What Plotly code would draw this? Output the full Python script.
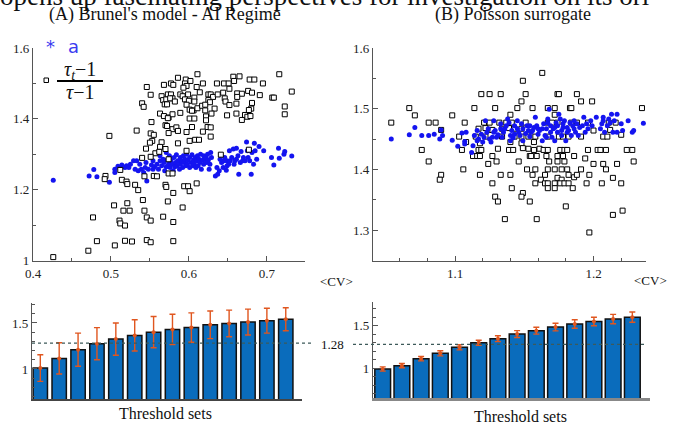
import plotly.graph_objects as go

# ---------------- data ----------------
# Panel A (Brunel's model) scatter: blue dots "a" and open squares (tau_t-1)/(tau-1)
brunel_a = [
    (0.426, 1.227), (0.492, 1.232),
    (0.472, 1.239), (0.478, 1.257), (0.482, 1.237), (0.498, 1.221), (0.505, 1.258), (0.505, 1.249),
    (0.509, 1.266), (0.512, 1.261), (0.514, 1.270), (0.518, 1.263), (0.520, 1.268), (0.523, 1.263),
    (0.525, 1.272), (0.529, 1.282), (0.531, 1.258), (0.533, 1.282), (0.535, 1.254), (0.537, 1.272),
    (0.539, 1.258), (0.542, 1.249), (0.544, 1.263), (0.545, 1.277), (0.546, 1.225), (0.548, 1.258),
    (0.551, 1.294), (0.552, 1.270), (0.554, 1.282), (0.554, 1.258), (0.556, 1.265), (0.559, 1.272),
    (0.561, 1.258), (0.563, 1.282), (0.563, 1.296), (0.565, 1.268), (0.567, 1.286), (0.568, 1.277),
    (0.569, 1.254), (0.571, 1.265), (0.571, 1.305), (0.572, 1.284), (0.574, 1.272), (0.575, 1.296),
    (0.576, 1.263), (0.577, 1.280), (0.578, 1.289), (0.579, 1.272), (0.580, 1.254), (0.581, 1.291),
    (0.582, 1.265), (0.583, 1.277), (0.584, 1.299), (0.585, 1.268), (0.586, 1.282), (0.588, 1.258),
    (0.589, 1.291), (0.589, 1.272), (0.591, 1.282), (0.592, 1.263), (0.593, 1.296), (0.594, 1.277),
    (0.595, 1.286), (0.596, 1.268), (0.597, 1.300), (0.598, 1.272), (0.599, 1.284), (0.601, 1.263),
    (0.601, 1.291), (0.603, 1.277), (0.604, 1.299), (0.605, 1.268), (0.606, 1.284), (0.607, 1.272),
    (0.608, 1.291), (0.609, 1.263), (0.610, 1.282), (0.611, 1.296), (0.612, 1.268), (0.613, 1.286),
    (0.614, 1.277), (0.615, 1.300), (0.616, 1.258), (0.618, 1.284), (0.619, 1.296), (0.619, 1.272),
    (0.621, 1.286), (0.622, 1.291), (0.623, 1.277), (0.624, 1.300), (0.625, 1.284), (0.626, 1.258),
    (0.627, 1.272), (0.628, 1.305), (0.629, 1.291), (0.634, 1.239), (0.636, 1.263), (0.637, 1.244),
    (0.639, 1.254), (0.640, 1.286), (0.642, 1.277), (0.644, 1.263), (0.645, 1.282), (0.646, 1.291),
    (0.648, 1.255), (0.649, 1.268), (0.649, 1.282), (0.651, 1.272), (0.652, 1.310), (0.653, 1.282),
    (0.655, 1.291), (0.657, 1.315), (0.658, 1.272), (0.659, 1.282), (0.661, 1.317), (0.661, 1.286),
    (0.663, 1.296), (0.664, 1.244), (0.666, 1.277), (0.667, 1.308), (0.669, 1.282), (0.670, 1.291),
    (0.672, 1.282), (0.674, 1.335), (0.675, 1.310), (0.676, 1.291), (0.678, 1.282), (0.680, 1.244),
    (0.681, 1.305), (0.683, 1.272), (0.684, 1.331), (0.685, 1.310), (0.687, 1.286), (0.690, 1.322),
    (0.696, 1.310), (0.706, 1.291), (0.709, 1.270), (0.715, 1.317), (0.716, 1.289), (0.722, 1.300),
    (0.723, 1.308), (0.732, 1.295),
]
brunel_ratio = [
    (0.611, 1.526), (0.586, 1.516), (0.596, 1.511), (0.602, 1.507), (0.657, 1.519), (0.665, 1.520),
    (0.678, 1.511), (0.684, 1.511), (0.695, 1.500), (0.716, 1.526), (0.568, 1.496), (0.577, 1.500),
    (0.580, 1.496), (0.595, 1.500), (0.597, 1.493), (0.618, 1.500), (0.636, 1.500), (0.645, 1.500),
    (0.651, 1.500), (0.658, 1.507), (0.546, 1.490), (0.593, 1.488), (0.610, 1.490), (0.652, 1.485),
    (0.676, 1.479), (0.681, 1.474), (0.732, 1.477), (0.551, 1.468), (0.565, 1.464), (0.573, 1.469),
    (0.577, 1.469), (0.579, 1.458), (0.589, 1.469), (0.592, 1.464), (0.599, 1.469), (0.607, 1.460),
    (0.614, 1.475), (0.625, 1.469), (0.628, 1.469), (0.631, 1.462), (0.637, 1.469), (0.644, 1.474),
    (0.662, 1.472), (0.668, 1.471), (0.691, 1.467), (0.707, 1.460), (0.709, 1.460), (0.567, 1.453),
    (0.571, 1.455), (0.576, 1.458), (0.582, 1.449), (0.595, 1.455), (0.600, 1.451), (0.607, 1.449),
    (0.625, 1.453), (0.627, 1.447), (0.646, 1.458), (0.647, 1.449), (0.662, 1.462), (0.681, 1.445),
    (0.540, 1.444), (0.542, 1.434), (0.569, 1.441), (0.572, 1.441), (0.597, 1.440), (0.601, 1.426),
    (0.606, 1.424), (0.611, 1.430), (0.617, 1.437), (0.621, 1.440), (0.633, 1.429), (0.652, 1.439),
    (0.661, 1.443), (0.680, 1.429), (0.677, 1.425), (0.723, 1.435), (0.563, 1.415), (0.568, 1.408),
    (0.574, 1.404), (0.579, 1.413), (0.589, 1.417), (0.604, 1.423), (0.621, 1.424), (0.629, 1.415),
    (0.649, 1.410), (0.661, 1.415), (0.672, 1.411), (0.675, 1.406), (0.679, 1.408), (0.723, 1.413),
    (0.552, 1.391), (0.573, 1.402), (0.601, 1.401), (0.607, 1.401), (0.622, 1.407), (0.622, 1.396),
    (0.668, 1.397), (0.570, 1.382), (0.572, 1.380), (0.579, 1.371), (0.584, 1.376), (0.586, 1.366),
    (0.604, 1.377), (0.624, 1.377), (0.628, 1.376), (0.533, 1.367), (0.551, 1.359), (0.555, 1.355),
    (0.574, 1.360), (0.597, 1.363), (0.618, 1.364), (0.628, 1.350), (0.498, 1.352), (0.553, 1.338),
    (0.565, 1.334), (0.550, 1.333), (0.586, 1.331), (0.601, 1.338), (0.608, 1.341), (0.613, 1.341),
    (0.563, 1.321), (0.545, 1.316), (0.557, 1.303), (0.562, 1.307), (0.570, 1.315), (0.597, 1.310),
    (0.677, 1.313), (0.540, 1.290), (0.551, 1.293), (0.574, 1.286), (0.641, 1.299), (0.512, 1.256),
    (0.493, 1.239), (0.492, 1.230), (0.514, 1.228), (0.520, 1.223), (0.521, 1.216), (0.531, 1.214),
    (0.535, 1.199), (0.543, 1.238), (0.555, 1.239), (0.559, 1.238), (0.570, 1.214), (0.571, 1.208),
    (0.574, 1.246), (0.579, 1.246), (0.594, 1.210), (0.599, 1.210), (0.601, 1.196), (0.610, 1.218),
    (0.580, 1.191), (0.541, 1.171), (0.573, 1.167), (0.504, 1.156), (0.521, 1.162), (0.516, 1.141),
    (0.524, 1.141), (0.543, 1.141), (0.592, 1.150), (0.477, 1.122), (0.546, 1.122), (0.551, 1.113),
    (0.567, 1.124), (0.511, 1.113), (0.512, 1.105), (0.518, 1.099), (0.580, 1.109), (0.482, 1.055),
    (0.505, 1.043), (0.518, 1.056), (0.527, 1.054), (0.546, 1.058), (0.551, 1.052), (0.580, 1.055),
    (0.471, 1.028), (0.426, 1.010),
]

# Panel B (Poisson surrogate) scatter
poisson_a = [
    (1.054, 1.450), (1.067, 1.457), (1.071, 1.469), (1.076, 1.456), (1.081, 1.456), (1.085, 1.458),
    (1.089, 1.450), (1.090, 1.465), (1.091, 1.456), (1.098, 1.448), (1.102, 1.438), (1.105, 1.460),
    (1.107, 1.446), (1.108, 1.461), (1.107, 1.442), (1.112, 1.428), (1.113, 1.439), (1.114, 1.456),
    (1.116, 1.464), (1.116, 1.447), (1.117, 1.450), (1.119, 1.458), (1.120, 1.445), (1.121, 1.453),
    (1.122, 1.480), (1.123, 1.461), (1.124, 1.467), (1.125, 1.450), (1.126, 1.445), (1.127, 1.453),
    (1.128, 1.461), (1.128, 1.480), (1.129, 1.464), (1.130, 1.453), (1.131, 1.457), (1.133, 1.475),
    (1.133, 1.467), (1.134, 1.453), (1.135, 1.461), (1.136, 1.467), (1.137, 1.472), (1.138, 1.483),
    (1.139, 1.477), (1.140, 1.456), (1.140, 1.447), (1.141, 1.464), (1.142, 1.452), (1.143, 1.458),
    (1.143, 1.472), (1.145, 1.467), (1.145, 1.480), (1.146, 1.461), (1.147, 1.456), (1.148, 1.475),
    (1.149, 1.467), (1.149, 1.447), (1.151, 1.459), (1.152, 1.472), (1.153, 1.464), (1.154, 1.472),
    (1.154, 1.454), (1.155, 1.461), (1.156, 1.464), (1.157, 1.469), (1.158, 1.486), (1.159, 1.472),
    (1.160, 1.458), (1.160, 1.467), (1.161, 1.464), (1.163, 1.447), (1.163, 1.467), (1.164, 1.475),
    (1.165, 1.456), (1.166, 1.453), (1.166, 1.467), (1.167, 1.477), (1.167, 1.483), (1.168, 1.499),
    (1.169, 1.472), (1.169, 1.461), (1.170, 1.453), (1.171, 1.467), (1.172, 1.447), (1.172, 1.469),
    (1.173, 1.477), (1.174, 1.461), (1.174, 1.472), (1.175, 1.491), (1.176, 1.483), (1.177, 1.464),
    (1.177, 1.456), (1.178, 1.475), (1.178, 1.469), (1.179, 1.480), (1.180, 1.447), (1.181, 1.461),
    (1.181, 1.469), (1.182, 1.464), (1.183, 1.477), (1.184, 1.456), (1.185, 1.472), (1.186, 1.480),
    (1.186, 1.467), (1.187, 1.461), (1.188, 1.475), (1.189, 1.456), (1.190, 1.469), (1.192, 1.472),
    (1.193, 1.486), (1.194, 1.461), (1.195, 1.475), (1.196, 1.467), (1.198, 1.480), (1.199, 1.472),
    (1.202, 1.486), (1.205, 1.467), (1.206, 1.475), (1.207, 1.480), (1.207, 1.486), (1.208, 1.461),
    (1.210, 1.472), (1.211, 1.483), (1.212, 1.477), (1.213, 1.491), (1.214, 1.461), (1.215, 1.480),
    (1.217, 1.461), (1.217, 1.491), (1.220, 1.475), (1.221, 1.464), (1.225, 1.480), (1.228, 1.461),
    (1.229, 1.464), (1.236, 1.476),
]
poisson_ratio = [
    (1.163, 1.559), (1.149, 1.546), (1.119, 1.524), (1.125, 1.524), (1.133, 1.524), (1.151, 1.524),
    (1.174, 1.524), (1.175, 1.524), (1.188, 1.524), (1.148, 1.512), (1.191, 1.512), (1.199, 1.512),
    (1.067, 1.501), (1.114, 1.501), (1.129, 1.501), (1.145, 1.501), (1.156, 1.501), (1.167, 1.501),
    (1.172, 1.501), (1.183, 1.501), (1.184, 1.501), (1.235, 1.501), (1.071, 1.489), (1.098, 1.489),
    (1.140, 1.490), (1.172, 1.490), (1.054, 1.477), (1.081, 1.477), (1.086, 1.477), (1.107, 1.477),
    (1.121, 1.477), (1.125, 1.477), (1.132, 1.477), (1.137, 1.477), (1.141, 1.477), (1.151, 1.477),
    (1.167, 1.477), (1.170, 1.477), (1.174, 1.477), (1.184, 1.477), (1.188, 1.477), (1.196, 1.477),
    (1.211, 1.477), (1.216, 1.477), (1.090, 1.465), (1.117, 1.467), (1.122, 1.468), (1.125, 1.465),
    (1.127, 1.465), (1.134, 1.467), (1.139, 1.468), (1.143, 1.467), (1.148, 1.467), (1.103, 1.454),
    (1.115, 1.454), (1.122, 1.454), (1.134, 1.454), (1.143, 1.454), (1.148, 1.454), (1.153, 1.454),
    (1.158, 1.454), (1.167, 1.454), (1.175, 1.454), (1.178, 1.454), (1.182, 1.454), (1.191, 1.454),
    (1.200, 1.464), (1.207, 1.454), (1.210, 1.454), (1.220, 1.457), (1.212, 1.465), (1.108, 1.445),
    (1.118, 1.443), (1.140, 1.445), (1.148, 1.443), (1.157, 1.445), (1.076, 1.432), (1.105, 1.432),
    (1.117, 1.432), (1.119, 1.432), (1.131, 1.434), (1.139, 1.432), (1.142, 1.432), (1.149, 1.435),
    (1.153, 1.434), (1.157, 1.432), (1.161, 1.434), (1.164, 1.432), (1.167, 1.432), (1.176, 1.432),
    (1.179, 1.432), (1.181, 1.432), (1.196, 1.432), (1.203, 1.432), (1.205, 1.432), (1.209, 1.432),
    (1.224, 1.432), (1.228, 1.432), (1.113, 1.422), (1.116, 1.422), (1.118, 1.422), (1.127, 1.422),
    (1.154, 1.422), (1.155, 1.422), (1.159, 1.422), (1.166, 1.422), (1.174, 1.422), (1.178, 1.422),
    (1.186, 1.422), (1.194, 1.418), (1.207, 1.409), (1.081, 1.413), (1.124, 1.409), (1.130, 1.413),
    (1.146, 1.413), (1.168, 1.413), (1.174, 1.413), (1.179, 1.413), (1.200, 1.409), (1.217, 1.409),
    (1.229, 1.413), (1.106, 1.400), (1.152, 1.400), (1.158, 1.400), (1.167, 1.400), (1.172, 1.400),
    (1.177, 1.400), (1.181, 1.400), (1.191, 1.400), (1.209, 1.400), (1.090, 1.391), (1.118, 1.391),
    (1.133, 1.391), (1.140, 1.391), (1.156, 1.391), (1.165, 1.391), (1.174, 1.386), (1.177, 1.383),
    (1.182, 1.391), (1.186, 1.387), (1.188, 1.391), (1.197, 1.391), (1.214, 1.386), (1.089, 1.383),
    (1.127, 1.377), (1.158, 1.377), (1.162, 1.383), (1.165, 1.377), (1.167, 1.377), (1.172, 1.377),
    (1.176, 1.377), (1.179, 1.377), (1.182, 1.377), (1.195, 1.377), (1.206, 1.377), (1.220, 1.377),
    (1.141, 1.369), (1.167, 1.369), (1.172, 1.369), (1.185, 1.369), (1.149, 1.361), (1.148, 1.355),
    (1.129, 1.355), (1.131, 1.347), (1.154, 1.347), (1.180, 1.339), (1.221, 1.332), (1.214, 1.325),
    (1.136, 1.318), (1.159, 1.318), (1.197, 1.296),
]

# Bar charts (threshold sets)
threshold_sets = [1, 2, 3, 4, 5, 6, 7, 8, 9, 10, 11, 12, 13, 14]
brunel_bars = [1.01, 1.115, 1.21, 1.275, 1.325, 1.365, 1.40, 1.43, 1.45, 1.48, 1.495, 1.51, 1.525, 1.54]
brunel_err = [0.145, 0.17, 0.18, 0.175, 0.175, 0.17, 0.17, 0.165, 0.16, 0.15, 0.145, 0.14, 0.135, 0.125]
poisson_bars = [0.992, 1.031, 1.113, 1.176, 1.246, 1.30, 1.348, 1.402, 1.441, 1.484, 1.52, 1.55, 1.578, 1.60]
poisson_err = [0.025, 0.025, 0.025, 0.03, 0.03, 0.03, 0.035, 0.04, 0.04, 0.045, 0.05, 0.05, 0.055, 0.06]
ref_level = 1.28

# ---------------- styling helpers ----------------
W, H = 683, 430
def px(v): return v / W
def py(v): return 1 - v / H

BLUE = "#1414f0"
BAR = "#0a6cbc"
ORANGE = "#e0561f"
AX = "#555555"
SERIF = "Liberation Serif"

def xs(pts): return [p[0] for p in pts]
def ys(pts): return [p[1] for p in pts]

fig = go.Figure()
dot = dict(color=BLUE, size=5)
sq = dict(symbol="square", color="white", size=5, line=dict(color="black", width=1))

fig.add_trace(go.Scatter(x=xs(brunel_a), y=ys(brunel_a), mode="markers", marker=dot, xaxis="x", yaxis="y"))
fig.add_trace(go.Scatter(x=xs(brunel_ratio), y=ys(brunel_ratio), mode="markers", marker=sq, xaxis="x", yaxis="y"))
fig.add_trace(go.Scatter(x=xs(poisson_ratio), y=ys(poisson_ratio), mode="markers", marker=sq, xaxis="x2", yaxis="y2"))
fig.add_trace(go.Scatter(x=xs(poisson_a), y=ys(poisson_a), mode="markers", marker=dot, xaxis="x2", yaxis="y2"))

barstyle = dict(color=BAR, line=dict(color="#111111", width=1.5))
fig.add_trace(go.Bar(x=threshold_sets, y=brunel_bars, width=0.76, marker=barstyle, xaxis="x3", yaxis="y3"))
fig.add_trace(go.Scatter(x=threshold_sets, y=brunel_bars, mode="markers",
                         marker=dict(color=ORANGE, size=4),
                         error_y=dict(type="data", array=brunel_err, color=ORANGE, thickness=1.4, width=3),
                         xaxis="x3", yaxis="y3"))
fig.add_trace(go.Bar(x=threshold_sets, y=poisson_bars, width=0.82, marker=barstyle, xaxis="x4", yaxis="y4"))
fig.add_trace(go.Scatter(x=threshold_sets, y=poisson_bars, mode="markers",
                         marker=dict(color=ORANGE, size=4),
                         error_y=dict(type="data", array=poisson_err, color=ORANGE, thickness=1.4, width=3),
                         xaxis="x4", yaxis="y4"))

common = dict(showline=True, linecolor=AX, linewidth=1.3, ticks="inside", tickcolor=AX,
              ticklen=5, tickwidth=1, showgrid=False, zeroline=False, automargin=False,
              tickfont=dict(family=SERIF, size=13, color="#222222"))

def minor(d, t0, ln=3):
    return dict(tick0=t0, dtick=d, ticks="inside", ticklen=ln, tickcolor=AX, showgrid=False)

fig.update_layout(
    width=W, height=H, margin=dict(l=0, r=0, t=0, b=0, autoexpand=False),
    paper_bgcolor="white", plot_bgcolor="white", showlegend=False,
    xaxis=dict(common, domain=[px(33), px(305)], range=[0.4, 0.749], anchor="y",
               tick0=0.4, dtick=0.1, minor=minor(0.05, 0.4)),
    yaxis=dict(common, domain=[py(261), py(48)], range=[0.999, 1.6], anchor="x",
               tick0=1.0, dtick=0.2, minor=minor(0.1, 1.0)),
    xaxis2=dict(common, domain=[px(373), px(646)], range=[1.0408, 1.2379], anchor="y2",
                tickvals=[1.1, 1.2], ticktext=["1.1", "1.2"], minor=minor(0.02, 1.0)),
    yaxis2=dict(common, domain=[py(261), py(48)], range=[1.249, 1.6], anchor="x2",
                tick0=1.3, dtick=0.1, minor=minor(0.05, 1.25)),
    xaxis3=dict(common, domain=[px(32), px(302)], range=[0.56, 14.86], anchor="y3",
                showticklabels=False, ticks="", linecolor="#444444", linewidth=1.6),
    yaxis3=dict(common, domain=[py(399), py(303)], range=[0.674, 1.717], anchor="x3",
                tickvals=[1, 1.5], ticktext=["1", "1.5"], minor=minor(0.1, 0.7)),
    xaxis4=dict(common, domain=[px(373), px(650)], range=[0.495, 14.92], anchor="y4",
                showticklabels=False, ticks="", linecolor="#888888", linewidth=3),
    yaxis4=dict(common, domain=[py(398), py(302)], range=[0.652, 1.778], anchor="x4",
                tickvals=[1, 1.5], ticktext=["1", "1.5"], minor=minor(0.1, 0.7)),
)

shapes = [
    dict(type="line", xref="paper", yref="y3", x0=px(32), x1=px(312), y0=ref_level, y1=ref_level,
         line=dict(color="#3d5a5a", width=1.2, dash="dot")),
    dict(type="line", xref="paper", yref="y4", x0=px(353), x1=px(645), y0=ref_level, y1=ref_level,
         line=dict(color="#3d5a5a", width=1.2, dash="dot")),
    # legend glyphs in panel A
    dict(type="rect", xref="paper", yref="paper", x0=px(44), x1=px(48.5), y0=py(82.5), y1=py(78),
         line=dict(color="black", width=1), fillcolor="white"),
    dict(type="line", xref="paper", yref="paper", x0=px(57), x1=px(103), y0=py(81), y1=py(81),
         line=dict(color="black", width=1.8)),
]
fig.update_layout(shapes=shapes)

def ann(text, x, y, size, family=SERIF, color="#111111", xanchor="center", yanchor="middle"):
    return dict(text=text, x=px(x), y=py(y), xref="paper", yref="paper", showarrow=False,
                xanchor=xanchor, yanchor=yanchor, font=dict(family=family, size=size, color=color))

annotations = [
    ann("opens up fascinating perspectives for investigation on its ori", -2, 13, 27,
        xanchor="left", yanchor="bottom"),
    ann("(A) Brunel's model - AI Regime", 165, 14, 18),
    ann("(B) Poisson surrogate", 513, 14, 18),
    ann("*", 50, 46, 18, family="DejaVu Sans", color="#3a3af0"),
    ann("a", 73, 46, 18, family="DejaVu Sans", color="#3a3af0"),
    ann("<i>τ</i><sub><i>t</i></sub>−1", 80, 70, 20),
    ann("<i>τ</i>−1", 80, 92, 20),
    ann("&lt;CV&gt;", 336, 281, 13),
    ann("&lt;CV&gt;", 650, 280, 13),
    ann("1.28", 332, 344, 13),
    ann("Threshold sets", 165, 413, 16),
    ann("Threshold sets", 520, 416, 16),
]
fig.update_layout(annotations=annotations)

# the page is photographed edge to edge, so drop the browser's default body margin
fig.write_html("out.html", config={"displayModeBar": False},
               post_script="document.body.style.margin='0';")
